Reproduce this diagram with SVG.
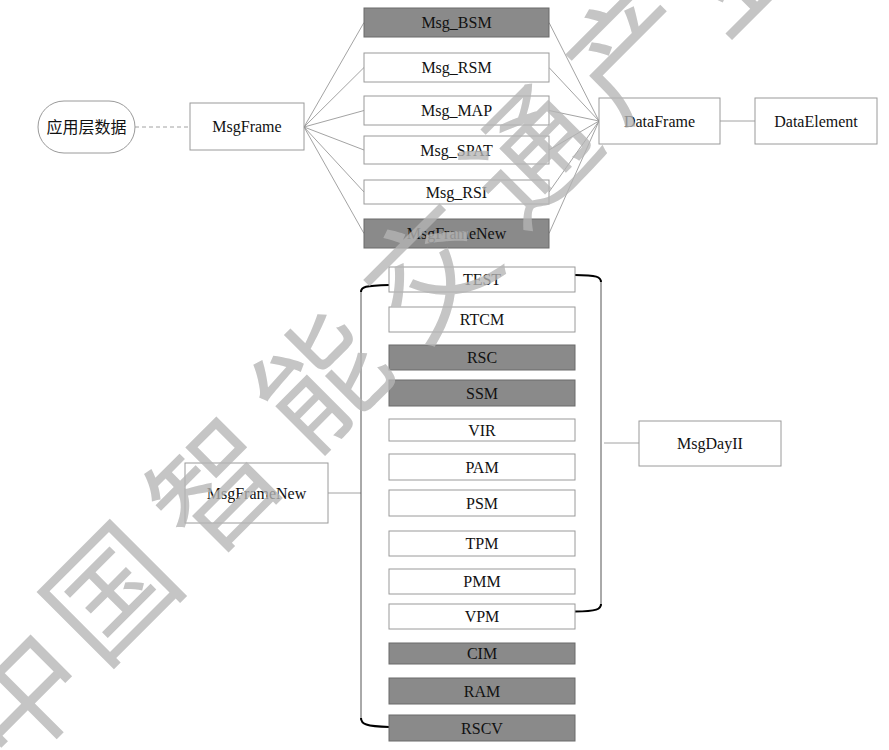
<svg xmlns="http://www.w3.org/2000/svg" width="889" height="750" viewBox="0 0 889 750">
<style>
.box{fill:#fff;stroke:#9a9a9a;stroke-width:1}
.dark{fill:#8a8a8a;stroke:#6a6a6a;stroke-width:1}
.lbl{font-family:'Liberation Serif','Times New Roman','Noto Sans CJK SC',serif;font-size:16px;fill:#111;text-anchor:middle}
.ln{stroke:#8c8c8c;stroke-width:0.8;fill:none}
.br{stroke:#555;stroke-width:1;fill:none}
.brc{stroke:#000;stroke-width:2;fill:none}
.wm{font-family:'Noto Sans CJK SC',sans-serif;font-size:125px;fill:#b5b5b5;opacity:0.78;text-anchor:middle;dominant-baseline:central}
</style>
<rect width="889" height="750" fill="#fff"/>
<g id="connectors">
<line class="ln" x1="135" y1="127" x2="190" y2="127" stroke-dasharray="4,3"/>
<line class="ln" x1="304" y1="127" x2="364" y2="22.5"/>
<line class="ln" x1="304" y1="127" x2="364" y2="67.5"/>
<line class="ln" x1="304" y1="127" x2="364" y2="110.5"/>
<line class="ln" x1="304" y1="127" x2="364" y2="150"/>
<line class="ln" x1="304" y1="127" x2="364" y2="192"/>
<line class="ln" x1="304" y1="127" x2="364" y2="233.5"/>
<line class="ln" x1="549" y1="22.5" x2="599" y2="121"/>
<line class="ln" x1="549" y1="67.5" x2="599" y2="121"/>
<line class="ln" x1="549" y1="110.5" x2="599" y2="121"/>
<line class="ln" x1="549" y1="150" x2="599" y2="121"/>
<line class="ln" x1="549" y1="192" x2="599" y2="121"/>
<line class="ln" x1="549" y1="233.5" x2="599" y2="121"/>
<line class="ln" x1="720" y1="121" x2="755" y2="121"/>
<line class="ln" x1="328" y1="493" x2="361" y2="493"/>
<line class="br" x1="361" y1="290" x2="361" y2="720"/>
<path class="brc" d="M361,292 C361,287 365,285.5 389,285"/>
<path class="brc" d="M361,718 C361,724 366,726.5 389,727"/>
<line class="br" x1="601" y1="280" x2="601" y2="606"/>
<path class="brc" d="M575,275 C597,275 601,277 601,282"/>
<path class="brc" d="M575,611.5 C597,611.5 601,609 601,604"/>
<line class="ln" x1="604" y1="443" x2="639" y2="443"/>
</g>
<g id="app-data"><rect class="box" x="38" y="101" width="97" height="52" rx="26"/><text class="lbl" x="86.5" y="132.5">应用层数据</text></g>
<g id="msgframe"><rect class="box" x="190" y="103" width="114" height="47"/><text class="lbl" x="247" y="132">MsgFrame</text></g>
<g id="msg-bsm"><rect class="dark" x="364" y="8" width="185" height="29"/><text class="lbl" x="456.5" y="28">Msg_BSM</text></g>
<g id="msg-rsm"><rect class="box" x="364" y="53" width="185" height="29"/><text class="lbl" x="456.5" y="73">Msg_RSM</text></g>
<g id="msg-map"><rect class="box" x="364" y="96" width="185" height="29"/><text class="lbl" x="456.5" y="116">Msg_MAP</text></g>
<g id="msg-spat"><rect class="box" x="364" y="136" width="185" height="28"/><text class="lbl" x="456.5" y="155.5">Msg_SPAT</text></g>
<g id="msg-rsi"><rect class="box" x="364" y="180" width="185" height="24"/><text class="lbl" x="456.5" y="197.5">Msg_RSI</text></g>
<g id="msgframenew-top"><rect class="dark" x="364" y="219" width="185" height="29"/><text class="lbl" x="456.5" y="239">MsgFrameNew</text></g>
<g id="dataframe"><rect class="box" x="599" y="98" width="121" height="46"/><text class="lbl" x="659.5" y="126.5">DataFrame</text></g>
<g id="dataelement"><rect class="box" x="755" y="98" width="122" height="46"/><text class="lbl" x="816" y="126.5">DataElement</text></g>
<g id="msgframenew"><rect class="box" x="185" y="463" width="143" height="60"/><text class="lbl" x="256.5" y="499">MsgFrameNew</text></g>
<g id="test"><rect class="box" x="389" y="267" width="186" height="25"/><text class="lbl" x="482" y="285">TEST</text></g>
<g id="rtcm"><rect class="box" x="389" y="307" width="186" height="25"/><text class="lbl" x="482" y="325">RTCM</text></g>
<g id="rsc"><rect class="dark" x="389" y="345" width="186" height="25"/><text class="lbl" x="482" y="363">RSC</text></g>
<g id="ssm"><rect class="dark" x="389" y="380" width="186" height="26"/><text class="lbl" x="482" y="398.5">SSM</text></g>
<g id="vir"><rect class="box" x="389" y="419" width="186" height="22"/><text class="lbl" x="482" y="435.5">VIR</text></g>
<g id="pam"><rect class="box" x="389" y="454" width="186" height="26"/><text class="lbl" x="482" y="472.5">PAM</text></g>
<g id="psm"><rect class="box" x="389" y="490" width="186" height="26"/><text class="lbl" x="482" y="508.5">PSM</text></g>
<g id="tpm"><rect class="box" x="389" y="531" width="186" height="25"/><text class="lbl" x="482" y="549">TPM</text></g>
<g id="pmm"><rect class="box" x="389" y="569" width="186" height="25"/><text class="lbl" x="482" y="587">PMM</text></g>
<g id="vpm"><rect class="box" x="389" y="604" width="186" height="25"/><text class="lbl" x="482" y="622">VPM</text></g>
<g id="cim"><rect class="dark" x="389" y="643" width="186" height="21"/><text class="lbl" x="482" y="659">CIM</text></g>
<g id="ram"><rect class="dark" x="389" y="678" width="186" height="26"/><text class="lbl" x="482" y="696.5">RAM</text></g>
<g id="rscv"><rect class="dark" x="389" y="715" width="186" height="26"/><text class="lbl" x="482" y="733.5">RSCV</text></g>
<g id="msgdayii"><rect class="box" x="639" y="421" width="142" height="45"/><text class="lbl" x="710" y="449">MsgDayII</text></g>
<g id="watermark">
<text class="wm" transform="translate(15,690) rotate(-45)">中</text>
<text class="wm" transform="translate(105,587) rotate(-45)">国</text>
<text class="wm" transform="translate(210,480) rotate(-45)">智</text>
<text class="wm" transform="translate(315,375) rotate(-45)">能</text>
<text class="wm" transform="translate(425,265) rotate(-45)">交</text>
<text class="wm" transform="translate(525,150) rotate(-45)">通</text>
<text class="wm" transform="translate(625,45) rotate(-45)">产</text>
<text class="wm" transform="translate(730,-40) rotate(-45)">业</text>
</g>
</svg>
